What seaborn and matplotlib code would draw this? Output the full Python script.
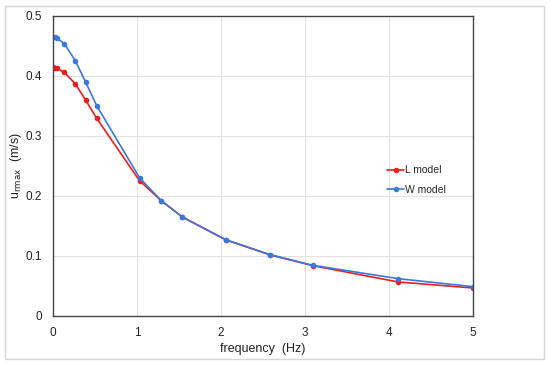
import matplotlib
matplotlib.use("Agg")
import matplotlib.pyplot as plt
import seaborn as sns
import pandas as pd
from matplotlib.patches import Rectangle

freq = [0.0, 0.02, 0.045, 0.135, 0.265, 0.39, 0.52, 1.03, 1.29, 1.54, 2.06, 2.58, 3.09, 4.11, 5.0]
l_model = [0.4145, 0.414, 0.413, 0.406, 0.387, 0.3595, 0.3295, 0.2255, 0.192, 0.165, 0.1267, 0.102, 0.084, 0.0567, 0.0467]
w_model = [0.4645, 0.4645, 0.463, 0.454, 0.4255, 0.3895, 0.3505, 0.2305, 0.192, 0.165, 0.127, 0.1025, 0.0845, 0.0622, 0.0489]
series = ["L model", "W model"]
colors = ["#ee1c1c", "#3a78dc"]

df = pd.concat([
    pd.DataFrame({"frequency": freq, "u": l_model, "model": series[0]}),
    pd.DataFrame({"frequency": freq, "u": w_model, "model": series[1]}),
])

sns.set_theme(style="white")
plt.rcParams['font.family'] = ['Arial', 'Liberation Sans', 'DejaVu Sans']

fig = plt.figure(figsize=(5.5, 3.65), dpi=100)
ax = fig.add_axes([53/550, 1-316/365, 420/550, 300/365])

sns.lineplot(data=df, x="frequency", y="u", hue="model", palette=colors,
             marker="o", markersize=4, markeredgewidth=0, linewidth=1.2,
             ax=ax, sort=False)

ax.set_xlim(0, 5)
ax.set_ylim(0, 0.5)
ax.set_xticks([0, 1, 2, 3, 4, 5])
ax.set_xticklabels(["0", "1", "2", "3", "4", "5"])
ax.set_yticks([0, 0.1, 0.2, 0.3, 0.4, 0.5])
ax.set_yticklabels(["0", "0.1", "0.2", "0.3", "0.4", "0.5"])
ax.grid(True, color="#e2e2e2", linewidth=0.8)
ax.tick_params(axis="both", labelsize=8.5, colors="#222222", length=0, pad=8)
for s in ax.spines.values():
    s.set_color("#444444")
    s.set_linewidth(1.0)
ax.set_xlabel("frequency  (Hz)", fontsize=9, color="#222222", labelpad=3)
ax.set_ylabel(r"u$_{\mathrm{rmax}}$  (m/s)", fontsize=9, color="#222222")
ax.yaxis.set_label_coords(-29/420, 0.5)

leg = ax.legend(loc="upper left", bbox_to_anchor=(325/420, 1-140/300), frameon=False,
                fontsize=7.5, handlelength=1.6, handletextpad=0.1, labelspacing=0.9,
                title=None)

fig.patches.append(Rectangle((5/550, 1-359/365), 539/550, 353/365, transform=fig.transFigure,
                             fill=False, edgecolor="#d6d6d6", linewidth=1.0))

fig.savefig("out.png", dpi=100)
